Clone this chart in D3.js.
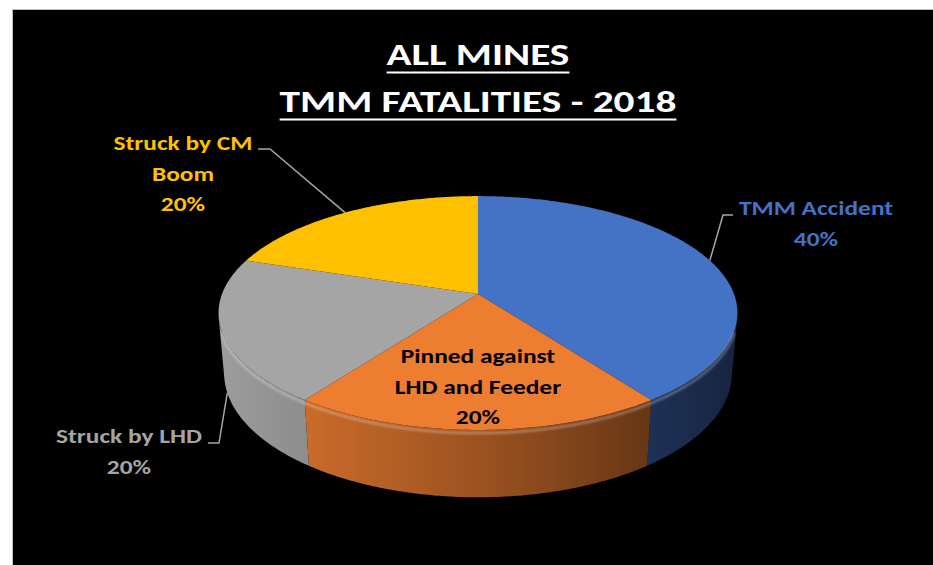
<!DOCTYPE html>
<html>
<head>
<meta charset="utf-8">
<script src="https://cdn.jsdelivr.net/npm/d3@7"></script>
<style>
  body { margin: 0; background: #fff; }
  text { font-family: Carlito, Calibri, Lato, sans-serif; font-weight: bold; }
</style>
</head>
<body>
<div id="chart"></div>
<script>
// chart data
const categories = ["TMM Accident", "Pinned against LHD and Feeder", "Struck by LHD", "Struck by CM Boom"];
const fatalities = [2, 1, 1, 1];
const sliceColors = ["#4472C4", "#ED7D31", "#A5A5A5", "#FFC000"];
const titleLines = ["ALL MINES", "TMM FATALITIES - 2018"];
const labelLines = [["TMM Accident"], ["Pinned against", "LHD and Feeder"], ["Struck by LHD"], ["Struck by CM", "Boom"]];

const width = 933, height = 565;

const svg = d3.select('#chart')
    .append('svg')
    .attr('width', width)
    .attr('height', height);

svg.append('rect')
    .attr('x', 12.5).attr('y', 9.5)
    .attr('width', 940).attr('height', 600)
    .attr('fill', '#000')
    .attr('stroke', '#bfbfbf');

// 3d view of the pie: tilt, camera distance, thickness
const view = { cx: 478, cy: 294, k: 256, tilt: 26.4 * Math.PI / 180, dist: 5.51, depth: 0.265 };

function project(theta, y) {
    const X = Math.sin(theta), Z = -Math.cos(theta);
    const yv = y * Math.cos(view.tilt) - Z * Math.sin(view.tilt);
    const zv = y * Math.sin(view.tilt) + Z * Math.cos(view.tilt);
    const s = view.dist / (view.dist - zv);
    return [view.cx + view.k * X * s, view.cy - view.k * yv * s];
}

function rim(a0, a1, y) {
    const n = Math.max(2, Math.ceil((a1 - a0) / 0.01));
    return d3.range(n + 1).map(i => project(a0 + (a1 - a0) * i / n, y));
}

const total = d3.sum(fatalities);
const pct = d3.format('.0%');
const arcs = d3.pie().sort(null).value(d => d)(fatalities);

// visible part of the side wall
const edge = Math.acos(-1 / (view.dist * Math.cos(view.tilt)));
const vis0 = edge, vis1 = 2 * Math.PI - edge;

const defs = svg.append('defs');
const shade = (c, f) => { const r = d3.rgb(c); return d3.rgb(r.r * f, r.g * f, r.b * f).toString(); };

arcs.forEach((a, i) => {
    const g = defs.append('linearGradient')
        .attr('id', 'side' + i)
        .attr('gradientUnits', 'userSpaceOnUse')
        .attr('x1', view.cx - 260).attr('x2', view.cx + 260)
        .attr('y1', 0).attr('y2', 0);
    g.append('stop').attr('offset', 0).attr('stop-color', shade(sliceColors[i], 0.95));
    g.append('stop').attr('offset', 0.5).attr('stop-color', shade(sliceColors[i], 0.66));
    g.append('stop').attr('offset', 1).attr('stop-color', shade(sliceColors[i], 0.32));
});

defs.append('filter').attr('id', 'soft')
    .append('feGaussianBlur').attr('stdDeviation', 1.2);

const line = d3.line();
const pie = svg.append('g');

// sides
arcs.forEach((a, i) => {
    const s0 = Math.max(a.startAngle, vis0), s1 = Math.min(a.endAngle, vis1);
    if (s1 <= s0) return;
    const pts = rim(s0, s1, 0).concat(rim(s0, s1, -view.depth).reverse());
    pie.append('path')
        .attr('d', line(pts) + 'Z')
        .attr('fill', `url(#side${i})`);
});

// tops
arcs.forEach((a, i) => {
    const pts = [[view.cx, view.cy]].concat(rim(a.startAngle, a.endAngle, 0));
    pie.append('path')
        .attr('d', line(pts) + 'Z')
        .attr('fill', sliceColors[i]);
});

// bevel highlight on the front rim
pie.append('path')
    .attr('d', line(rim(vis0 + 0.1, vis1 - 0.1, -0.012)))
    .attr('fill', 'none')
    .attr('stroke', '#fff')
    .attr('stroke-opacity', 0.3)
    .attr('stroke-width', 2.5)
    .attr('filter', 'url(#soft)');

// horizontal stretch of the text, as in the source picture
const stretch = (x, sx) => `translate(${x},0) scale(${sx},1) translate(${-x},0)`;

// title
titleLines.forEach((t, i) => {
    const y = [65, 112][i];
    const txt = svg.append('text')
        .attr('x', view.cx).attr('y', y)
        .attr('text-anchor', 'middle')
        .attr('fill', '#fff')
        .attr('transform', stretch(view.cx, 1.4))
        .style('font-size', '29.5px')
        .text(t);
    const w = txt.node().getComputedTextLength() * 1.4;
    svg.append('line')
        .attr('x1', view.cx - w / 2).attr('x2', view.cx + w / 2)
        .attr('y1', y + 7.5).attr('y2', y + 7.5)
        .attr('stroke', '#fff').attr('stroke-width', 2);
});

// data labels
const labelLayout = [
    { x: 816, y: 215, color: sliceColors[0], leader: [[733, 215], [723, 215]], h: 0 },
    { x: 478, y: 363, color: '#000' },
    { x: 129, y: 443, color: sliceColors[2], leader: [[208, 443], [219, 443]], h: -view.depth },
    { x: 183, y: 150, color: sliceColors[3], leader: [[258, 149], [270, 149]], h: 0 }
];

arcs.forEach((a, i) => {
    const L = labelLayout[i];
    const lines = labelLines[i].concat([pct(a.value / total)]);
    const txt = svg.append('text')
        .attr('text-anchor', 'middle')
        .attr('fill', L.color)
        .attr('transform', stretch(L.x, 1.21))
        .style('font-size', '21px');
    lines.forEach((l, j) => {
        txt.append('tspan').attr('x', L.x).attr('y', L.y + j * 30.7).text(l);
    });
    if (L.leader) {
        const mid = (a.startAngle + a.endAngle) / 2;
        svg.append('path')
            .attr('d', line(L.leader.concat([project(mid, L.h)])))
            .attr('fill', 'none')
            .attr('stroke', '#a6a6a6')
            .attr('stroke-width', 1.5);
    }
});
</script>
</body>
</html>
